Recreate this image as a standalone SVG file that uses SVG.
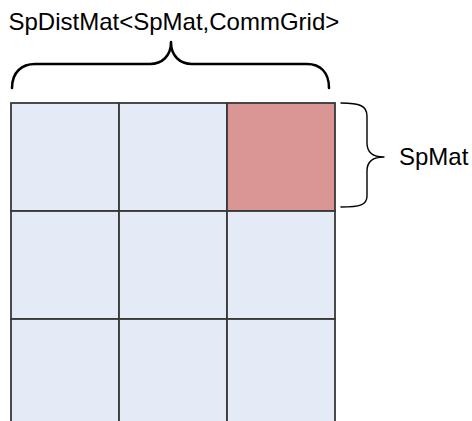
<svg xmlns="http://www.w3.org/2000/svg" width="472" height="421" viewBox="0 0 472 421">
<style>
.cell{fill:#E5EBF6;stroke:#383838;stroke-width:1.8}
.hot{fill:#D99694}
.brace{fill:none;stroke:#000;stroke-linecap:round;stroke-linejoin:round}
.lbl{font-family:"Liberation Sans",Arial,sans-serif;font-size:24px;fill:#000}
</style>
<rect width="472" height="421" fill="#fff"/>
<g id="grid">
<rect id="c00" class="cell" x="11" y="103" width="108" height="108"/>
<rect id="c01" class="cell" x="119" y="103" width="108" height="108"/>
<rect id="c02" class="cell hot" x="227" y="103" width="108" height="108"/>
<rect id="c10" class="cell" x="11" y="211" width="108" height="108"/>
<rect id="c11" class="cell" x="119" y="211" width="108" height="108"/>
<rect id="c12" class="cell" x="227" y="211" width="108" height="108"/>
<rect id="c20" class="cell" x="11" y="319" width="108" height="120"/>
<rect id="c21" class="cell" x="119" y="319" width="108" height="120"/>
<rect id="c22" class="cell" x="227" y="319" width="108" height="120"/>
</g>
<g id="connectors">
<path id="topBrace" class="brace" stroke-width="2.5" d="M12,88 C12,72 22,64 35,64 L150,64 C162,64 171,56 171,42 C171,56 180,64 192,64 L307,64 C320,64 329,72 329,88"/>
<path id="rightBrace" class="brace" stroke-width="1.4" d="M341,103 C360,103 367,106 367,116 L367,143 C367,152 372,157 384,157 C372,157 367,162 367,171 L367,196 C367,205 360,207 341,207"/>
</g>
<g id="labelTop"><text class="lbl" x="8.5" y="30">SpDistMat&lt;SpMat,CommGrid&gt;</text></g>
<g id="labelRight"><text class="lbl" x="399" y="165">SpMat</text></g>
</svg>
